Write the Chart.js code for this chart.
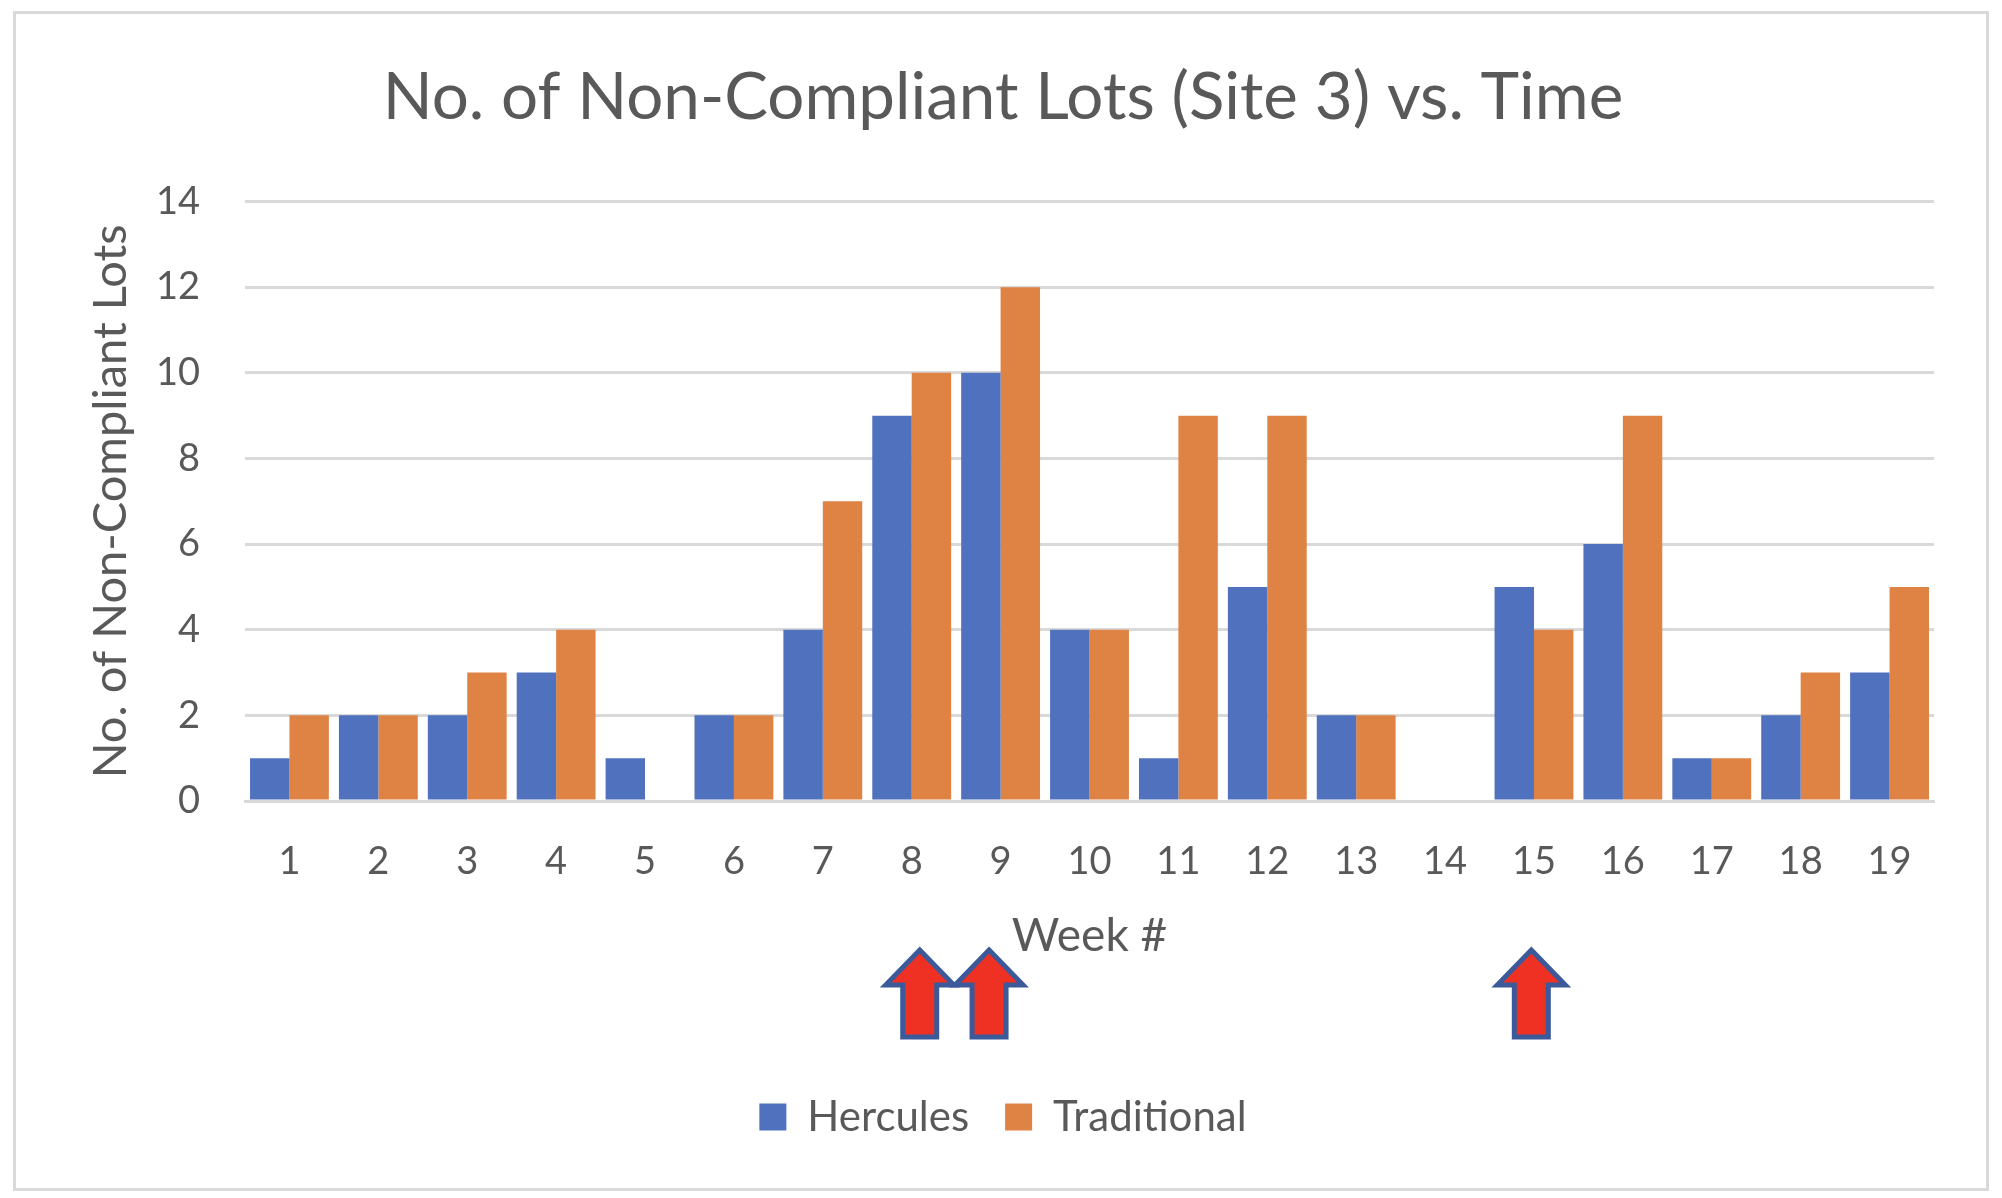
<!DOCTYPE html>
<html>
<head>
<meta charset="utf-8">
<style>
	html, body { margin: 0; padding: 0; background: #fff; }
	#wrap { position: relative; width: 2002px; height: 1198px; }
</style>
<script src="https://cdn.jsdelivr.net/npm/chart.js@4"></script>
</head>
<body>
<div id="wrap"><canvas id="chart" width="2002" height="1198"></canvas></div>
<script>
const weeks = ['1','2','3','4','5','6','7','8','9','10','11','12','13','14','15','16','17','18','19'];
const hercules = [1,2,2,3,1,2,4,9,10,4,1,5,2,0,5,6,1,2,3];
const traditional = [2,2,3,4,0,2,7,10,12,4,9,9,2,0,4,9,1,3,5];
const arrowSpots = [7.09, 7.87, 13.97];

const grey = '#595959';
const fontName = 'Lato, Carlito, sans-serif';

// frame round the whole chart
const framePlugin = {
	id: 'frame',
	beforeDraw( chart ) {
		const ctx = chart.ctx;
		ctx.save();
		ctx.strokeStyle = '#d9d9d9';
		ctx.lineWidth = 3;
		ctx.strokeRect( 14.5, 12.5, 1973, 1177 );
		ctx.restore();
	},
};

// the red arrows pasted under the axis
const arrowPlugin = {
	id: 'arrows',
	afterDraw( chart ) {
		const ctx = chart.ctx;
		const x = chart.scales.x;
		arrowSpots.forEach( ( spot ) => {
			const c = x.getPixelForValue( spot );
			ctx.save();
			ctx.beginPath();
			ctx.moveTo( c, 950 );
			ctx.lineTo( c + 34, 985 );
			ctx.lineTo( c + 17, 985 );
			ctx.lineTo( c + 17, 1037 );
			ctx.lineTo( c - 17, 1037 );
			ctx.lineTo( c - 17, 985 );
			ctx.lineTo( c - 34, 985 );
			ctx.closePath();
			ctx.fillStyle = '#ee3123';
			ctx.strokeStyle = '#3c5a9a';
			ctx.lineWidth = 5;
			ctx.fill();
			ctx.stroke();
			ctx.restore();
		} );
	},
};

new Chart( document.getElementById( 'chart' ).getContext( '2d' ), {
	type: 'bar',
	data: {
		labels: weeks,
		datasets: [
			{ label: 'Hercules', data: hercules, backgroundColor: '#4f71be' },
			{ label: 'Traditional', data: traditional, backgroundColor: '#df8344' },
		],
	},
	options: {
		responsive: false,
		animation: false,
		devicePixelRatio: 1,
		categoryPercentage: 0.887,
		barPercentage: 1,
		layout: { padding: { left: 72, right: 68, top: 59, bottom: 50 } },
		plugins: {
			title: {
				display: true,
				text: 'No. of Non-Compliant Lots (Site 3) vs. Time',
				color: grey,
				font: { family: fontName, size: 65.5, weight: 'normal' },
				padding: { top: 0, bottom: 64 },
			},
			legend: {
				position: 'bottom',
				labels: {
					color: grey,
					font: { family: fontName, size: 42 },
					boxWidth: 27,
					boxHeight: 27,
					padding: 36,
				},
			},
		},
		scales: {
			x: {
				grid: { display: false },
				border: { color: '#d9d9d9', width: 3 },
				ticks: { color: grey, font: { family: fontName, size: 38 }, padding: 30, maxRotation: 0 },
				title: {
					display: true,
					text: 'Week #',
					color: grey,
					font: { family: fontName, size: 46 },
					padding: { top: 0, bottom: 96 },
				},
				afterFit( scale ) {
					scale.height = 259;
				},
			},
			y: {
				min: 0,
				max: 14,
				ticks: { stepSize: 2, color: grey, font: { family: fontName, size: 38 }, padding: 45 },
				grid: { color: '#d9d9d9', lineWidth: 3, tickLength: 0 },
				border: { display: false },
				title: {
					display: true,
					text: 'No. of Non-Compliant Lots',
					color: grey,
					font: { family: fontName, size: 47 },
					padding: { top: 11, bottom: 0 },
				},
				afterFit( scale ) {
					scale.width = 173;
				},
			},
		},
	},
	plugins: [ framePlugin, arrowPlugin ],
} );
</script>
</body>
</html>
